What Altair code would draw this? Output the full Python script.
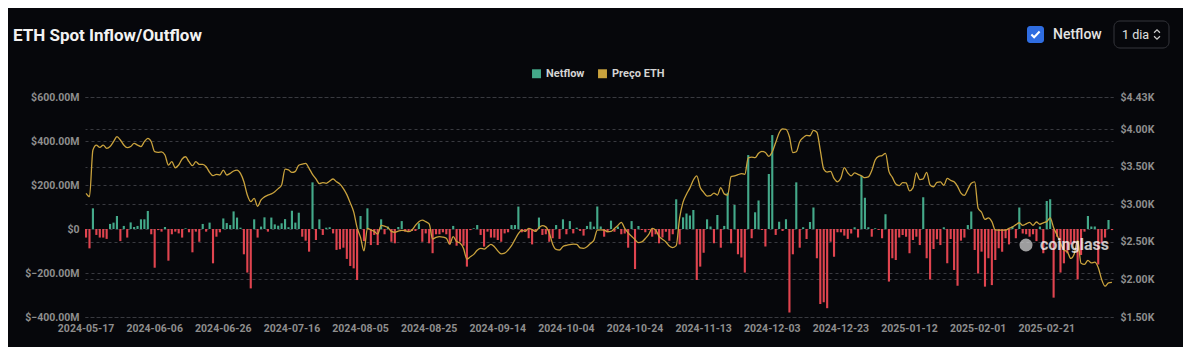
import altair as alt
import pandas as pd

# ---------------- data ----------------
start_date = "2024-05-17"

# daily ETH spot netflow, $ millions
netflow = [
    -39, -88, 94, -27, -39, -39, -45, 23, 29, 59,
    -55, 14, -39, 30, 9, 14, 44, 44, 82, -24,
    -176, -5, -12, 9, -144, -24, -12, -20, -39, 3,
    -15, -106, -12, -58, 23, -12, 29, -156, -35, -15,
    48, 27, 18, 80, 52, 6, -115, -198, -270, 44,
    -39, 11, 53, -12, 52, 21, 15, 26, 45, 8,
    83, 29, 74, -35, -53, -103, 212, -50, 44, -27,
    6, 8, -20, -95, -92, -85, -136, -168, -179, -232,
    59, -55, 94, -73, -27, -73, 44, -24, 11, -58,
    -65, 9, 36, -12, -12, -9, -9, 26, -58, -20,
    -65, -110, -24, -24, -15, -24, -70, 14, -76, -58,
    -76, -171, -5, 3, 18, -27, -80, -12, -39, -39,
    -50, -58, -20, -15, 18, 18, 102, -15, -12, -42,
    -70, -12, 52, -27, -24, -58, -42, 18, -45, 44,
    -24, 36, -20, 6, -9, -30, 14, 33, 11, 102,
    11, -35, -15, 38, -12, 11, -24, -20, -85, 36,
    -182, 14, -5, -15, -5, -35, -24, -65, -39, -12,
    -53, -24, 135, -70, 53, 71, 61, 86, -232, -171,
    -108, 44, 11, -65, 64, -85, 14, 165, -65, 109,
    -115, -129, -198, 336, -42, 76, 130, -5, -80, 250,
    427, -27, 33, -9, 44, -379, -115, 212, -85, 8,
    -45, 32, 98, -133, -341, -333, -360, -58, -126, -15,
    -15, -30, -45, -20, 8, -39, 241, 142, 8, -35,
    3, -5, -42, 67, -239, -133, -141, -39, -27, -35,
    -110, -50, -35, -73, 144, -133, -229, -91, -47, -73,
    8, -156, -45, -186, -258, -53, -39, 18, 79, -95,
    -202, -103, -262, -133, -255, -141, -88, -103, -42, -70,
    11, -42, 98, -20, -24, -35, -24, -55, 11, -110,
    127, 135, -312, -35, -198, -156, -110, -70, -65, -229,
    -118, -12, 59, 11, 11, -161, -65, -39, 41, -5,
]

# daily ETH price, USD
price = [
    3147, 3102, 3724, 3790, 3760, 3790, 3747, 3770, 3835, 3901,
    3857, 3790, 3755, 3770, 3812, 3790, 3770, 3835, 3880, 3835,
    3701, 3693, 3700, 3657, 3524, 3568, 3488, 3524, 3604, 3634,
    3568, 3515, 3568, 3533, 3533, 3501, 3427, 3382, 3400, 3391,
    3457, 3391, 3413, 3444, 3457, 3413, 3302, 3124, 3036, 3080,
    2975, 3060, 3100, 3124, 3140, 3169, 3210, 3258, 3470, 3460,
    3425, 3440, 3520, 3535, 3546, 3480, 3400, 3340, 3275, 3290,
    3280, 3310, 3338, 3300, 3270, 3210, 3130, 3020, 2900, 2690,
    2560, 2380, 2680, 2660, 2640, 2605, 2720, 2710, 2690, 2640,
    2628, 2645, 2655, 2650, 2636, 2660, 2720, 2770, 2790, 2770,
    2740, 2540, 2560, 2570, 2565, 2548, 2470, 2570, 2505, 2485,
    2414, 2272, 2303, 2334, 2390, 2414, 2405, 2436, 2468, 2436,
    2380, 2340, 2350, 2392, 2450, 2530, 2610, 2658, 2640, 2680,
    2665, 2640, 2690, 2716, 2700, 2620, 2470, 2400, 2392, 2440,
    2455, 2465, 2470, 2468, 2420, 2414, 2436, 2480, 2520, 2658,
    2660, 2658, 2636, 2640, 2680, 2720, 2760, 2680, 2620, 2575,
    2530, 2490, 2500, 2545, 2600, 2680, 2660, 2575, 2535, 2500,
    2445, 2425, 2450, 2820, 3030, 3135, 3220, 3324, 3380, 3225,
    3160, 3110, 3115, 3150, 3124, 3222, 3140, 3124, 3369, 3380,
    3395, 3410, 3400, 3620, 3628, 3622, 3680, 3705, 3690, 3640,
    3700, 3825, 3950, 4005, 4000, 3900, 3690, 3701, 3835, 3888,
    3920, 3914, 3985, 3960, 3720, 3470, 3430, 3440, 3345, 3300,
    3350, 3490, 3420, 3380, 3420, 3400, 3380, 3355, 3365, 3450,
    3590, 3640, 3650, 3680, 3440, 3360, 3270, 3250, 3290, 3285,
    3180, 3220, 3420, 3330, 3340, 3427, 3258, 3235, 3293, 3300,
    3255, 3345, 3320, 3300, 3240, 3150, 3120, 3200, 3280, 3300,
    2950, 2895, 2800, 2820, 2770, 2660, 2658, 2658, 2658, 2680,
    2700, 2730, 2755, 2720, 2740, 2760, 2720, 2765, 2735, 2755,
    2770, 2820, 2690, 2592, 2481, 2392, 2370, 2280, 2340, 2520,
    2215, 2200, 2255, 2220, 2230, 2160, 2000, 1910, 1955, 1960,
]

tick_labels = [
    "2024-05-17", "2024-06-06", "2024-06-26", "2024-07-16", "2024-08-05",
    "2024-08-25", "2024-09-14", "2024-10-04", "2024-10-24", "2024-11-13",
    "2024-12-03", "2024-12-23", "2025-01-12", "2025-02-01", "2025-02-21",
]
left_ticks = [-400, -200, 0, 200, 400, 600]
right_ticks = [1500, 2000, 2500, 3000, 3500, 4000, 4430]
series_names = ["Netflow", "Preço ETH", "Outflow"]

dates = pd.date_range(start_date, periods=len(netflow), freq="D").strftime("%Y-%m-%d").tolist()
df = pd.DataFrame({"date": dates, "netflow": netflow, "price": price})
df["series"] = ["Netflow" if v >= 0 else "Outflow" for v in netflow]

# ---------------- style ----------------
BG = "#06070b"
GREEN = "#44a98a"
RED = "#e0444f"
GOLD = "#c9a23d"
LABEL = "#8e8e8e"
GRID = "#393a40"
FONT = "Roboto"

x_enc = alt.X(
    "date:O",
    sort=None,
    scale=alt.Scale(paddingInner=0.38, paddingOuter=0),
    axis=alt.Axis(values=tick_labels, labelAngle=0, ticks=False, domain=False, grid=False,
                  labelPadding=6, labelColor=LABEL, labelFontSize=10.5, labelFont=FONT,
                  labelFontWeight="bold"),
    title=None,
)

bars = alt.Chart(df).mark_bar().encode(
    x=x_enc,
    y=alt.Y(
        "netflow:Q",
        scale=alt.Scale(domain=[-400, 600], nice=False),
        axis=alt.Axis(orient="left", values=left_ticks, ticks=False, domain=False,
                      grid=True, gridColor=GRID, gridDash=[3, 3], gridWidth=1,
                      labelPadding=6, labelColor=LABEL, labelFontSize=10.5, labelFont=FONT,
                      labelFontWeight="bold",
                      labelExpr="datum.value == 0 ? '$0' : '$' + format(datum.value, '.2f') + 'M'"),
        title=None,
    ),
    color=alt.Color(
        "series:N",
        scale=alt.Scale(domain=series_names, range=[GREEN, GOLD, RED]),
        legend=alt.Legend(values=["Netflow", "Preço ETH"], orient="none", legendX=446, legendY=-29,
                          direction="horizontal", title=None, symbolType="square", symbolSize=80,
                          symbolStrokeWidth=0, labelColor="#d4d4d4", labelFontSize=11,
                          labelFont=FONT, labelFontWeight="bold", columnPadding=12, labelOffset=4),
    ),
)

line = alt.Chart(df).mark_line(color=GOLD, strokeWidth=1.3, interpolate="monotone").encode(
    x=alt.X("date:O", sort=None),
    y=alt.Y(
        "price:Q",
        scale=alt.Scale(domain=[1500, 4430], nice=False, zero=False),
        axis=alt.Axis(orient="right", values=right_ticks, ticks=False, domain=False,
                      grid=True, gridColor=GRID, gridDash=[3, 3], gridWidth=1,
                      labelPadding=7, labelColor=LABEL, labelFontSize=10.5, labelFont=FONT,
                      labelFontWeight="bold",
                      labelExpr="'$' + format(datum.value / 1000, '.2f') + 'K'"),
        title=None,
    ),
)


def one(**cols):
    return pd.DataFrame({k: [v] for k, v in cols.items()})


title = alt.Chart(one(t="ETH Spot Inflow/Outflow")).mark_text(
    align="left", baseline="alphabetic", font=FONT, fontSize=17, fontWeight="bold", color="#f2f2f2"
).encode(x=alt.value(-72), y=alt.value(-56), text="t:N")

checkbox = alt.Chart(one(a=0)).mark_rect(color="#2f6de1", cornerRadius=3).encode(
    x=alt.value(942), x2=alt.value(959), y=alt.value(-71), y2=alt.value(-54)
)
check = alt.Chart(one(a=0)).mark_point(
    shape="M-0.75,0 L-0.25,0.5 L0.75,-0.55", filled=False, stroke="white", strokeWidth=2, size=120, opacity=1
).encode(x=alt.value(950.5), y=alt.value(-62.5))

netflow_lbl = alt.Chart(one(t="Netflow")).mark_text(
    align="left", baseline="middle", font=FONT, fontSize=14, fontWeight=500, color="#e4e4e4"
).encode(x=alt.value(968), y=alt.value(-62.5), text="t:N")

dropdown = alt.Chart(one(a=0)).mark_rect(fill=BG, stroke="#35363c", strokeWidth=1, cornerRadius=6).encode(
    x=alt.value(1029), x2=alt.value(1084), y=alt.value(-76), y2=alt.value(-49)
)
dropdown_lbl = alt.Chart(one(t="1 dia")).mark_text(
    align="left", baseline="middle", font=FONT, fontSize=12.5, color="#e0e0e0"
).encode(x=alt.value(1037), y=alt.value(-62.5), text="t:N")
chevron = alt.Chart(one(a=0)).mark_point(
    shape="M-0.5,-0.3 L0,-0.8 L0.5,-0.3 M-0.5,0.3 L0,0.8 L0.5,0.3",
    filled=False, stroke="#cfcfcf", strokeWidth=1.2, size=140, opacity=1
).encode(x=alt.value(1072), y=alt.value(-62.5))

logo = alt.Chart(one(a=0)).mark_point(shape="circle", filled=True, color="#d0d0d0", size=170, opacity=0.75).encode(
    x=alt.value(941), y=alt.value(148)
)
watermark = alt.Chart(one(t="coinglass")).mark_text(
    align="left", baseline="middle", font=FONT, fontSize=16, fontWeight="bold", color="white", opacity=0.75
).encode(x=alt.value(955), y=alt.value(148), text="t:N")

chart = alt.layer(
    bars, line, title, checkbox, check, netflow_lbl, dropdown, dropdown_lbl, chevron, logo, watermark
).resolve_scale(y="independent").properties(
    width=1028,
    height=220,
    background=BG,
    padding={"left": 77, "top": 89, "right": 70, "bottom": 30},
    autosize=alt.AutoSizeParams(type="none"),
).configure_view(strokeWidth=0)

chart.save("out.html", embed_options={"renderer": "svg", "actions": False})
